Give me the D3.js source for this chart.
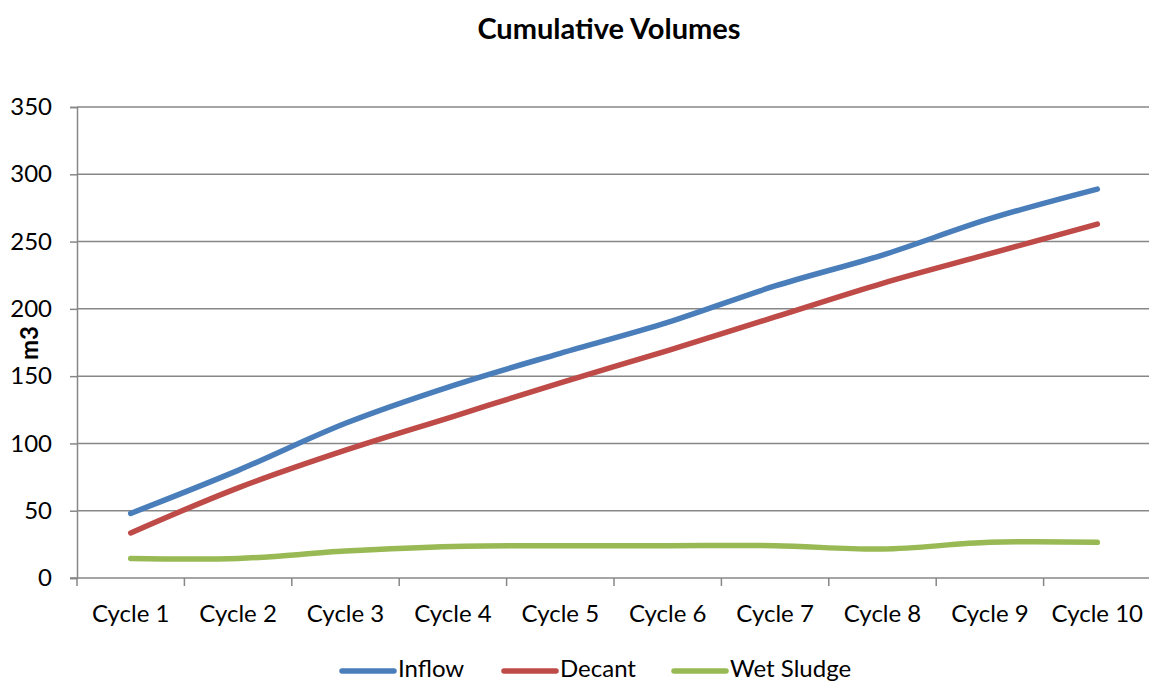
<!DOCTYPE html>
<html>
<head>
<meta charset="utf-8">
<script src="https://cdn.jsdelivr.net/npm/d3@7"></script>
<style>
  html, body { margin: 0; padding: 0; background: #fff; }
  svg { display: block; font-family: Lato, "Open Sans", sans-serif; }
</style>
</head>
<body>
<svg id="chart" width="1149" height="683"></svg>
<script>
// Cumulative volumes per treatment cycle (m3)
const categories = ["Cycle 1", "Cycle 2", "Cycle 3", "Cycle 4", "Cycle 5",
                    "Cycle 6", "Cycle 7", "Cycle 8", "Cycle 9", "Cycle 10"];
const inflow    = [48, 80, 115, 143, 167, 190, 217, 240, 267, 289];
const decant    = [33.5, 67, 95, 120, 145, 169, 194, 219, 241, 263];
const wetSludge = [14.5, 14.5, 20, 23.5, 24, 24, 24, 21.5, 26.5, 26.5];
const yTicks    = [0, 50, 100, 150, 200, 250, 300, 350];

const series = [
  { name: "Inflow",     values: inflow,    color: "#4a7ebb" },
  { name: "Decant",     values: decant,    color: "#be4b48" },
  { name: "Wet Sludge", values: wetSludge, color: "#98b954" }
];

const svg = d3.select("#chart");
const m = { left: 77, right: 1151, top: 107, bottom: 578 };

const x = d3.scaleBand().domain(categories).range([m.left, m.right]).paddingInner(0).paddingOuter(0);
const y = d3.scaleLinear().domain([0, 350]).range([m.bottom, m.top]);
const gridColor = "#878787";

// horizontal gridlines
svg.append("g").selectAll("line").data(yTicks.filter(d => d > 0)).join("line")
  .attr("x1", m.left).attr("x2", m.right)
  .attr("y1", d => y(d)).attr("y2", d => y(d))
  .attr("stroke", gridColor).attr("stroke-width", 1.5);

// y axis
const yAxis = svg.append("g").attr("transform", `translate(${m.left},0)`)
  .call(d3.axisLeft(y).tickValues(yTicks).tickSize(7).tickPadding(18).tickFormat(d3.format("d")));
yAxis.select(".domain").attr("stroke", gridColor).attr("stroke-width", 1.5);
yAxis.selectAll(".tick line").attr("stroke", gridColor).attr("stroke-width", 1.5);
yAxis.selectAll("text").attr("font-size", 24).attr("fill", "#000").attr("font-family", "Lato, sans-serif");

// x axis with tick marks at category boundaries
const xAxisG = svg.append("g").attr("transform", `translate(0,${m.bottom})`);
xAxisG.append("line").attr("x1", m.left - 7).attr("x2", m.right)
  .attr("stroke", gridColor).attr("stroke-width", 1.5);
xAxisG.selectAll(".bt").data(categories).join("line").attr("class", "bt")
  .attr("x1", d => x(d)).attr("x2", d => x(d))
  .attr("y1", 0).attr("y2", 8)
  .attr("stroke", gridColor).attr("stroke-width", 1.5);
xAxisG.selectAll(".lbl").data(categories).join("text").attr("class", "lbl")
  .attr("x", d => x(d) + x.bandwidth() / 2)
  .attr("y", 44)
  .attr("text-anchor", "middle")
  .attr("font-size", 24)
  .attr("fill", "#000")
  .text(d => d);

// series lines (smoothed)
const line = d3.line()
  .x((d, i) => x(categories[i]) + x.bandwidth() / 2)
  .y(d => y(d))
  .curve(d3.curveCatmullRom.alpha(0));

svg.append("g").selectAll("path").data(series).join("path")
  .attr("d", s => line(s.values))
  .attr("fill", "none")
  .attr("stroke", s => s.color)
  .attr("stroke-width", 5.5)
  .attr("stroke-linecap", "round")
  .attr("stroke-linejoin", "round");

// title
svg.append("text")
  .attr("x", 609).attr("y", 39)
  .attr("text-anchor", "middle")
  .attr("font-size", 29).attr("font-weight", "bold").attr("fill", "#000")
  .text("Cumulative Volumes");

// y axis title
svg.append("text")
  .attr("transform", "translate(38,343) rotate(-90)")
  .attr("text-anchor", "middle")
  .attr("font-size", 24).attr("font-weight", "bold").attr("fill", "#000")
  .text("m3");

// legend
const legendX = [340, 502, 672];
const legend = svg.append("g").selectAll("g").data(series).join("g")
  .attr("transform", (d, i) => `translate(${legendX[i]},671)`);
legend.append("line")
  .attr("x1", 2).attr("x2", 54).attr("y1", 0).attr("y2", 0)
  .attr("stroke", d => d.color).attr("stroke-width", 5.5).attr("stroke-linecap", "round");
legend.append("text")
  .attr("x", 58).attr("y", 6)
  .attr("font-size", 24).attr("fill", "#000")
  .text(d => d.name);
</script>
</body>
</html>
